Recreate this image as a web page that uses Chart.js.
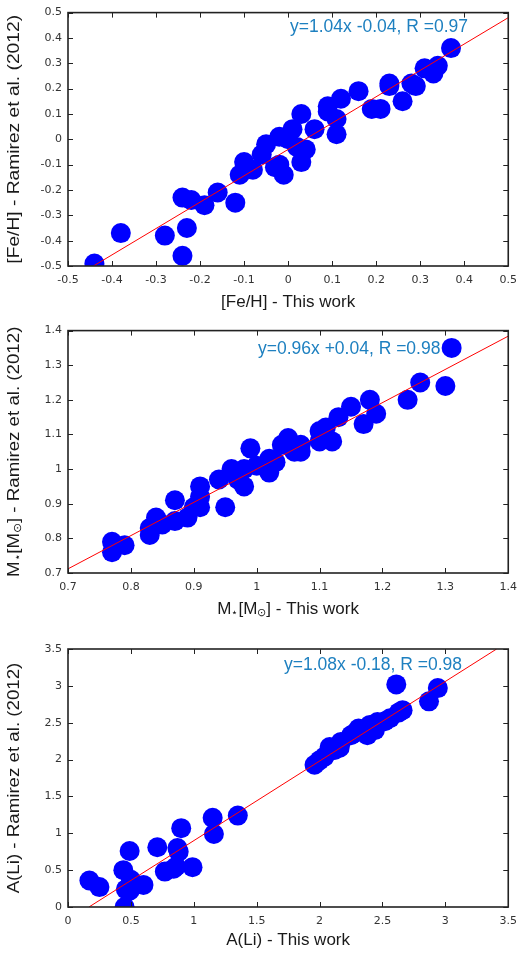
<!DOCTYPE html>
<html>
<head>
<meta charset="utf-8">
<script src="https://cdn.jsdelivr.net/npm/chart.js@4.4.1/dist/chart.umd.min.js"></script>
<style>
  html, body { margin: 0; padding: 0; background: #fff; }
  .panel { position: absolute; left: 0; width: 525px; }
</style>
</head>
<body>
<div class="panel" style="top:0; height:318px"><canvas id="fehChart"></canvas></div>
<div class="panel" style="top:318px; height:318px"><canvas id="massChart"></canvas></div>
<div class="panel" style="top:634px; height:320px"><canvas id="liChart"></canvas></div>
<script>
// [Fe/H]: this work (x) against Ramirez et al. 2012 (y)
const fehThisWork = [-0.44, -0.38, -0.28, -0.24, -0.23, -0.24, -0.22, -0.19, -0.16, -0.12,
  -0.11, -0.10, -0.08, -0.06, -0.05, -0.03, -0.02, -0.01, -0.02, 0.00,
  0.01, 0.02, 0.03, 0.04, 0.03, 0.06, 0.09, 0.09, 0.11, 0.11,
  0.12, 0.16, 0.19, 0.21, 0.23, 0.23, 0.26, 0.28, 0.29, 0.31,
  0.33, 0.34, 0.37];
const fehRamirez = [-0.49, -0.37, -0.38, -0.46, -0.35, -0.23, -0.24, -0.26, -0.21, -0.25,
  -0.14, -0.09, -0.12, -0.06, -0.02, -0.11, 0.01, -0.14, -0.10, 0.00,
  0.04, -0.03, -0.09, -0.04, 0.10, 0.04, 0.13, 0.11, 0.08, 0.02,
  0.16, 0.19, 0.12, 0.12, 0.21, 0.22, 0.15, 0.22, 0.21, 0.28,
  0.26, 0.29, 0.36];
const fehTicks = [-0.5, -0.4, -0.3, -0.2, -0.1, 0, 0.1, 0.2, 0.3, 0.4, 0.5];
const fehFit = [1.04, -0.04, 0.97]; // slope, intercept, R

// stellar mass in solar units
const massThisWork = [0.77, 0.77, 0.79, 0.83, 0.84, 0.83, 0.85, 0.87, 0.87, 0.89,
  0.90, 0.91, 0.91, 0.91, 0.95, 0.94, 0.96, 0.97, 0.98, 0.98,
  0.99, 1.00, 1.02, 1.02, 1.03, 1.04, 1.05, 1.07, 1.07, 1.06,
  1.10, 1.11, 1.10, 1.12, 1.13, 1.15, 1.17, 1.18, 1.19, 1.24,
  1.26, 1.30, 1.31];
const massRamirez = [0.79, 0.76, 0.78, 0.83, 0.86, 0.81, 0.84, 0.85, 0.91, 0.86,
  0.89, 0.89, 0.95, 0.92, 0.89, 0.97, 1.00, 0.97, 0.95, 1.00,
  1.06, 1.01, 1.03, 0.99, 1.02, 1.07, 1.09, 1.07, 1.05, 1.05,
  1.11, 1.12, 1.08, 1.08, 1.15, 1.18, 1.13, 1.20, 1.16, 1.20,
  1.25, 1.24, 1.35];
const massXTicks = [0.7, 0.8, 0.9, 1.0, 1.1, 1.2, 1.3, 1.4];
const massYTicks = [0.7, 0.8, 0.9, 1.0, 1.1, 1.2, 1.3, 1.4];
const massFit = [0.96, 0.04, 0.98];

// lithium abundance A(Li)
const liThisWork = [0.17, 0.25, 0.45, 0.44, 0.49, 0.46, 0.49, 0.53, 0.50, 0.60,
  0.71, 0.77, 0.84, 0.86, 0.87, 0.88, 0.90, 0.99, 1.15, 1.16,
  1.35, 1.96, 2.00, 2.04, 2.08, 2.12, 2.16, 2.17, 2.25, 2.28,
  2.31, 2.38, 2.40, 2.44, 2.46, 2.52, 2.56, 2.61, 2.63, 2.66,
  2.87, 2.94];
const liRamirez = [0.36, 0.27, 0.00, 0.50, 0.76, 0.24, 0.22, 0.30, 0.37, 0.30,
  0.81, 0.48, 0.52, 0.55, 0.80, 0.75, 1.07, 0.54, 1.21, 0.99,
  1.24, 1.93, 1.99, 2.04, 2.17, 2.13, 2.16, 2.24, 2.33, 2.36,
  2.42, 2.33, 2.47, 2.40, 2.51, 2.52, 2.56, 3.02, 2.64, 2.67,
  2.79, 2.97];
const liTicks = [0, 0.5, 1, 1.5, 2, 2.5, 3, 3.5];
const liFit = [1.08, -0.18, 0.98];

const sans = '"Liberation Sans", Arial, sans-serif';
const tickFont = { family: '"DejaVu Sans", sans-serif', size: 11 };
const titleSize = 17;

function fitLabel(fit) {
  const [m, b, r] = fit;
  return 'y=' + m.toFixed(2) + 'x ' + (b < 0 ? '-' : '+') + Math.abs(b).toFixed(2) +
    ', R =' + r.toFixed(2);
}

// axis titles are lists of [text, isSubscript] pieces
function richWidth(ctx, parts) {
  let w = 0;
  parts.forEach(([t, sub]) => {
    ctx.font = (sub ? titleSize * 0.62 : titleSize) + 'px ' + sans;
    w += ctx.measureText(t).width;
  });
  return w;
}

function drawRich(ctx, parts, x) {
  parts.forEach(([t, sub]) => {
    ctx.font = (sub ? titleSize * 0.62 : titleSize) + 'px ' + sans;
    ctx.fillText(t, x, sub ? titleSize * 0.22 : 0);
    x += ctx.measureText(t).width;
  });
}

// box frame, inward ticks on all four sides, axis titles and the fit equation
const framePlugin = {
  id: 'frame',
  afterDatasetsDraw(chart, args, opts) {
    const { ctx, chartArea: a, scales: { x, y } } = chart;
    const len = 5;
    ctx.save();
    ctx.strokeStyle = '#222';
    ctx.lineWidth = 1;
    ctx.beginPath();
    x.ticks.forEach(t => {
      const px = Math.round(x.getPixelForValue(t.value)) + 0.5;
      ctx.moveTo(px, a.bottom); ctx.lineTo(px, a.bottom - len);
      ctx.moveTo(px, a.top); ctx.lineTo(px, a.top + len);
    });
    y.ticks.forEach(t => {
      const py = Math.round(y.getPixelForValue(t.value)) + 0.5;
      ctx.moveTo(a.left, py); ctx.lineTo(a.left + len, py);
      ctx.moveTo(a.right, py); ctx.lineTo(a.right - len, py);
    });
    ctx.stroke();
    ctx.lineWidth = 1.6;
    ctx.strokeRect(a.left, a.top, a.right - a.left, a.bottom - a.top);

    // x title, centred under the frame
    ctx.fillStyle = '#1a1a1a';
    ctx.textAlign = 'left';
    ctx.textBaseline = 'middle';
    ctx.save();
    ctx.translate((a.left + a.right) / 2, a.bottom + opts.xTitleGap);
    drawRich(ctx, opts.xTitle, -richWidth(ctx, opts.xTitle) / 2);
    ctx.restore();

    // y title, rotated and slightly stretched along its length
    ctx.save();
    ctx.translate(14, (a.top + a.bottom) / 2);
    ctx.rotate(-Math.PI / 2);
    ctx.scale(opts.yStretch, 1);
    drawRich(ctx, opts.yTitle, -richWidth(ctx, opts.yTitle) / 2);
    ctx.restore();

    ctx.fillStyle = '#1e80c0';
    ctx.font = '17.5px ' + sans;
    ctx.fillText(opts.text, a.left + opts.dx, a.top + opts.dy);
    ctx.restore();
  }
};

function scatterPanel(id, p) {
  const [m, b] = p.fit;
  const xMin = p.xTicks[0], xMax = p.xTicks[p.xTicks.length - 1];
  const yMin = p.yTicks[0], yMax = p.yTicks[p.yTicks.length - 1];
  // regression line clipped to the frame
  const x0 = Math.max(xMin, (yMin - b) / m);
  const x1 = Math.min(xMax, (yMax - b) / m);
  const fmt = v => String(parseFloat(v.toFixed(2)));

  return new Chart(document.getElementById(id), {
    type: 'scatter',
    data: {
      datasets: [
        {
          data: p.x.map((v, i) => ({ x: v, y: p.y[i] })),
          backgroundColor: '#0000ff',
          borderColor: '#0000ff',
          borderWidth: 0,
          pointRadius: 10,
          pointHoverRadius: 10,
          clip: 0,
          order: 1
        },
        {
          type: 'line',
          data: [{ x: x0, y: m * x0 + b }, { x: x1, y: m * x1 + b }],
          borderColor: '#ff0000',
          borderWidth: 1,
          pointRadius: 0,
          clip: 0,
          order: 0
        }
      ]
    },
    options: {
      responsive: true,
      maintainAspectRatio: false,
      animation: false,
      events: [],
      layout: { padding: { left: 0, right: 13, top: p.top, bottom: p.bottom } },
      plugins: {
        legend: { display: false },
        tooltip: { enabled: false },
        frame: {
          text: fitLabel(p.fit), dx: p.labelDx, dy: p.labelDy,
          xTitle: p.xTitle, yTitle: p.yTitle, xTitleGap: p.xTitleGap, yStretch: p.yStretch
        }
      },
      scales: {
        x: {
          type: 'linear',
          min: xMin,
          max: xMax,
          afterBuildTicks: s => { s.ticks = p.xTicks.map(v => ({ value: v })); },
          afterFit: s => { s.height = p.xHeight; },
          grid: { display: false, drawTicks: false },
          border: { display: false },
          ticks: { padding: 8, font: tickFont, color: '#333', callback: fmt }
        },
        y: {
          type: 'linear',
          min: yMin,
          max: yMax,
          afterBuildTicks: s => { s.ticks = p.yTicks.map(v => ({ value: v })); },
          afterFit: s => { s.width = 68; },
          grid: { display: false, drawTicks: false },
          border: { display: false },
          ticks: { padding: 6, font: tickFont, color: '#333', callback: fmt }
        }
      }
    },
    plugins: [framePlugin]
  });
}

scatterPanel('fehChart', {
  x: fehThisWork, y: fehRamirez, xTicks: fehTicks, yTicks: fehTicks, fit: fehFit,
  xTitle: [['[Fe/H] - This work', 0]],
  yTitle: [['[Fe/H] - Ramirez et al. (2012)', 0]],
  top: 7, bottom: 0, xHeight: 52, xTitleGap: 36, yStretch: 1.13,
  labelDx: 222, labelDy: 15
});

scatterPanel('massChart', {
  x: massThisWork, y: massRamirez, xTicks: massXTicks, yTicks: massYTicks, fit: massFit,
  xTitle: [['M', 0], ['\u22c6', 1], ['[M', 0], ['\u2299', 1], ['] - This work', 0]],
  yTitle: [['M', 0], ['\u22c6', 1], ['[M', 0], ['\u2299', 1], ['] - Ramirez et al. (2012)', 0]],
  top: 10, bottom: 11, xHeight: 52, xTitleGap: 36, yStretch: 1.1,
  labelDx: 190, labelDy: 19
});

scatterPanel('liChart', {
  x: liThisWork, y: liRamirez, xTicks: liTicks, yTicks: liTicks, fit: liFit,
  xTitle: [['A(Li) - This work', 0]],
  yTitle: [['A(Li) - Ramirez et al. (2012)', 0]],
  top: 15, bottom: 0, xHeight: 47, xTitleGap: 33, yStretch: 1.1,
  labelDx: 216, labelDy: 16
});
</script>
</body>
</html>
